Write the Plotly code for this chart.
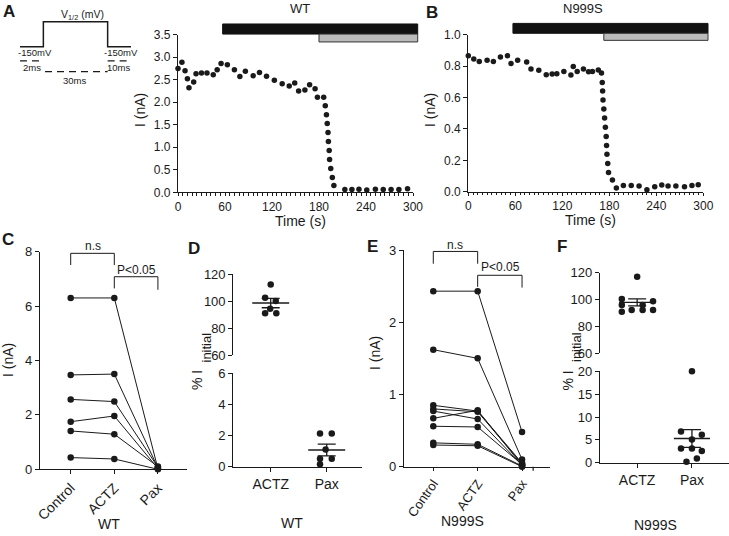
import plotly.graph_objects as go

W, H = 729, 536
FONT = "Liberation Sans, Arial, Helvetica, sans-serif"
INK = "#1a1a1a"

# ---------------- data ----------------
# voltage protocol schematic (arbitrary units: holding, step, holding)
proto_x = [0, 1, 1, 3.75, 3.75, 4.75]
proto_v = [0, 0, 1, 1, 0, 0]

# Panel A: WT time course
wt_time = [0, 5, 9, 12, 14, 20, 23, 30, 37, 45, 50, 55, 63, 72, 79, 86, 96, 104, 113, 123,
           133, 142, 149, 154, 162, 168, 175, 178, 186, 188, 189.5, 190.5, 191.5, 192, 193,
           193.5, 195, 197, 199, 213, 222, 231, 241, 252, 262, 272, 282, 293]
wt_current = [2.75, 2.89, 2.70, 2.52, 2.32, 2.45, 2.63, 2.65, 2.65, 2.61, 2.72, 2.86, 2.83, 2.72,
              2.57, 2.69, 2.59, 2.66, 2.58, 2.49, 2.41, 2.36, 2.43, 2.25, 2.27, 2.39, 2.30, 2.11,
              2.11, 1.92, 1.72, 1.53, 1.33, 1.13, 0.93, 0.73, 0.53, 0.33, 0.15, 0.06, 0.06, 0.07,
              0.05, 0.07, 0.06, 0.06, 0.06, 0.08]

# Panel B: N999S time course
n_time = [0, 7, 14, 24, 32, 41, 50, 54.5, 63, 74.5, 80, 90, 99.5, 107, 113, 122, 131, 134, 139,
          147, 153.5, 158.5, 166, 170, 171, 171.5, 172, 173, 174, 175, 176, 176.5, 177, 178, 179,
          184, 189, 198, 208, 218, 228, 238, 247, 255, 265, 276, 285.5, 293.5]
n_current = [0.866, 0.845, 0.83, 0.837, 0.83, 0.858, 0.866, 0.817, 0.837, 0.826, 0.781, 0.773,
             0.745, 0.75, 0.752, 0.766, 0.743, 0.798, 0.766, 0.781, 0.764, 0.766, 0.775, 0.756,
             0.696, 0.641, 0.584, 0.527, 0.469, 0.41, 0.352, 0.295, 0.238, 0.18, 0.123, 0.074,
             0.023, 0.040, 0.040, 0.036, 0.013, 0.032, 0.042, 0.036, 0.036, 0.032, 0.04, 0.045]

# drug application bars (s)
actz_start = 57
wt_pax_start = 180
n_pax_start = 173
bar_end = 306

# Panel C: WT paired currents (nA)
conditions = ["Control", "ACTZ", "Pax"]
wt_control = [6.30, 3.47, 2.57, 1.75, 1.41, 0.43]
wt_actz = [6.30, 3.50, 2.49, 1.96, 1.29, 0.38]
wt_pax = [0.02, 0.05, 0.08, 0.03, 0.10, 0.00]

# Panel E: N999S paired currents (nA)
n_control = [2.43, 1.62, 0.85, 0.80, 0.77, 0.67, 0.56, 0.33, 0.30]
n_actz = [2.43, 1.50, 0.77, 0.76, 0.66, 0.78, 0.55, 0.31, 0.29]
n_pax = [0.48, 0.10, 0.05, 0.04, 0.02, 0.02, 0.03, 0.01, 0.00]

# Panel D: WT % of initial current
groups = ["ACTZ", "Pax"]
d_actz = [112.3, 102.5, 100.0, 94.3, 90.9, 90.9]
d_actz_jit = [0.0, -0.10, 0.09, -0.01, -0.10, 0.10]
d_pax = [2.14, 2.14, 1.11, 0.51, 0.51, 0.15]
d_pax_jit = [-0.12, 0.09, -0.02, -0.12, 0.09, -0.12]
d_mean = [98.5, 1.07]
d_sem = [3.5, 0.38]

# Panel F: N999S % of initial current
f_actz = [117.0, 100.4, 98.7, 96.0, 96.0, 92.2, 92.2, 92.2, 91.0]
f_actz_jit = [0.0, -0.28, 0.29, -0.28, 0.10, -0.10, 0.10, 0.29, -0.28]
f_pax = [20.0, 6.8, 6.1, 5.1, 3.1, 3.1, 2.55, 0.9, 0.2]
f_pax_jit = [0.0, -0.20, 0.18, 0.0, -0.20, 0.0, 0.18, 0.09, -0.10]
f_mean = [97.9, 5.3]
f_sem = [2.6, 1.95]


# ---------------- helpers ----------------
def dom_x(left, right):
    return [left / W, right / W]


def dom_y(top, bottom):
    return [1 - bottom / H, 1 - top / H]


def ann(text, x, y, size=13, bold=False, angle=0, xanchor="center", yanchor="middle"):
    if bold:
        text = "<b>" + text + "</b>"
    return dict(text=text, x=x / W, y=1 - y / H, xref="paper", yref="paper", showarrow=False,
                font=dict(size=size, family=FONT, color=INK), textangle=angle,
                xanchor=xanchor, yanchor=yanchor)


def axis(**kw):
    base = dict(showline=True, linecolor=INK, linewidth=1.2, ticks="outside", ticklen=4,
                tickwidth=1.2, tickcolor=INK, showgrid=False, zeroline=False, automargin=False,
                tickfont=dict(size=12, family=FONT, color=INK), fixedrange=True)
    base.update(kw)
    return base


dot = dict(color=INK, size=5.5)
fig = go.Figure()

# protocol schematic
fig.add_trace(go.Scatter(x=proto_x, y=proto_v, mode="lines", line=dict(color=INK, width=1.5),
                         xaxis="x", yaxis="y", showlegend=False, hoverinfo="skip"))
for xs, yv in [([0, 1], -0.57), ([3.75, 4.75], -0.57), ([1.07, 3.75], -1.0)]:
    fig.add_trace(go.Scatter(x=xs, y=[yv, yv], mode="lines",
                             line=dict(color=INK, width=1.3, dash="7px,5px"),
                             xaxis="x", yaxis="y", showlegend=False, hoverinfo="skip"))

# A and B
fig.add_trace(go.Scatter(x=wt_time, y=wt_current, mode="markers", marker=dot, cliponaxis=False,
                         xaxis="x2", yaxis="y2", showlegend=False))
fig.add_trace(go.Scatter(x=n_time, y=n_current, mode="markers", marker=dot, cliponaxis=False,
                         xaxis="x3", yaxis="y3", showlegend=False))

# C and E paired lines
pair_dot = dict(color=INK, size=6.5)
for c, a, p in zip(wt_control, wt_actz, wt_pax):
    fig.add_trace(go.Scatter(x=[0, 1, 2], y=[c, a, p], mode="lines+markers", marker=pair_dot,
                             line=dict(color=INK, width=1), cliponaxis=False,
                             xaxis="x4", yaxis="y4", showlegend=False))
for c, a, p in zip(n_control, n_actz, n_pax):
    fig.add_trace(go.Scatter(x=[0, 1, 2], y=[c, a, p], mode="lines+markers", marker=pair_dot,
                             line=dict(color=INK, width=1), cliponaxis=False,
                             xaxis="x6", yaxis="y7", showlegend=False))

# significance brackets
def bracket(xa, ya, x0, x1, top, left_low, right_low):
    fig.add_trace(go.Scatter(x=[x0, x0, x1, x1], y=[left_low, top, top, right_low], mode="lines",
                             line=dict(color=INK, width=1), xaxis=xa, yaxis=ya,
                             showlegend=False, hoverinfo="skip"))


bracket("x4", "y4", 0, 1, 7.94, 7.51, 7.51)
bracket("x4", "y4", 1, 2, 7.08, 6.65, 6.6)
bracket("x6", "y7", 0, 1, 2.98, 2.81, 2.81)
bracket("x6", "y7", 1, 2, 2.65, 2.49, 2.48)


# D and F scatter with mean +/- SEM
def dotplot(xa, ya_up, ya_lo, actz, actz_j, pax, pax_j, mean, sem):
    fig.add_trace(go.Scatter(x=[0 + j for j in actz_j], y=actz, mode="markers", marker=pair_dot,
                             cliponaxis=False, xaxis=xa, yaxis=ya_up, showlegend=False))
    fig.add_trace(go.Scatter(x=[1 + j for j in pax_j], y=pax, mode="markers", marker=pair_dot,
                             cliponaxis=False, xaxis=xa, yaxis=ya_lo, showlegend=False))
    for i, ya in enumerate([ya_up, ya_lo]):
        fig.add_trace(go.Scatter(x=[i - 0.33, i + 0.33], y=[mean[i], mean[i]], mode="lines",
                                 line=dict(color=INK, width=1.4), xaxis=xa, yaxis=ya,
                                 showlegend=False, hoverinfo="skip"))
        fig.add_trace(go.Scatter(x=[i], y=[mean[i]], mode="markers",
                                 marker=dict(size=0.1, color=INK),
                                 error_y=dict(type="data", array=[sem[i]], color=INK,
                                              thickness=1.3, width=9),
                                 xaxis=xa, yaxis=ya, showlegend=False))


dotplot("x5", "y5", "y6", d_actz, d_actz_jit, d_pax, d_pax_jit, d_mean, d_sem)
dotplot("x7", "y8", "y9", f_actz, f_actz_jit, f_pax, f_pax_jit, f_mean, f_sem)

# ---------------- layout ----------------
cat_font = dict(size=14, family=FONT, color=INK)
num_font = dict(size=13, family=FONT, color=INK)
e_range = [-0.66, 2.63]
layout = dict(
    width=W, height=H, margin=dict(l=0, r=0, t=0, b=0, autoexpand=False),
    paper_bgcolor="white", plot_bgcolor="white", showlegend=False,
    # protocol
    xaxis=dict(domain=dom_x(17, 134), range=[-0.128, 4.878], visible=False, fixedrange=True),
    yaxis=dict(domain=dom_y(19.2, 74.2), range=[-1.1, 1.1], visible=False, fixedrange=True),
    # A
    xaxis2=axis(domain=dom_x(178, 413), range=[0, 300], tickvals=[0, 60, 120, 180, 240, 300],
                ticklen=3, anchor="y2",
                minor=dict(ticks="outside", dtick=6, ticklen=2.5, tickwidth=1, tickcolor=INK)),
    yaxis2=axis(domain=dom_y(34.7, 192.3), range=[0, 3.5], dtick=0.5, tickformat=".1f",
                anchor="x2"),
    # B
    xaxis3=axis(domain=dom_x(468.3, 703.3), range=[0, 300], tickvals=[0, 60, 120, 180, 240, 300],
                ticklen=3, anchor="y3",
                minor=dict(ticks="outside", dtick=6, ticklen=2.5, tickwidth=1, tickcolor=INK)),
    yaxis3=axis(domain=dom_y(34.7, 191.7), range=[0, 1.0], dtick=0.2, tickformat=".1f",
                anchor="x3"),
    # C
    xaxis4=axis(domain=dom_x(40, 187), range=[-0.704, 2.667], tickvals=[0, 1, 2],
                ticktext=conditions, tickangle=-45, tickfont=cat_font, anchor="y4"),
    yaxis4=axis(domain=dom_y(251.7, 469.3), range=[0, 8], dtick=2, anchor="x4",
                tickfont=num_font),
    # D
    xaxis5=axis(domain=dom_x(233.3, 362), range=[-0.668, 1.63], tickvals=[0, 1],
                ticktext=groups, tickfont=cat_font, anchor="y6"),
    yaxis5=axis(domain=dom_y(274, 355), range=[60, 120], dtick=20, anchor="x5",
                tickfont=num_font),
    yaxis6=axis(domain=dom_y(373.3, 466.7), range=[0, 6], dtick=2, anchor="x5",
                tickfont=num_font),
    # E
    xaxis6=axis(domain=dom_x(404, 550), range=e_range, tickvals=[0, 1, 2],
                ticktext=conditions, tickangle=-55, ticklen=3,
                tickfont=dict(size=13, family=FONT, color=INK), anchor="y7"),
    yaxis7=axis(domain=dom_y(250, 466.7), range=[0, 3], dtick=1, anchor="x6",
                tickfont=num_font),
    # F
    xaxis7=axis(domain=dom_x(600, 728.5), range=[-0.678, 1.667], tickvals=[0, 1],
                ticktext=groups, tickfont=cat_font, anchor="y9"),
    yaxis8=axis(domain=dom_y(272.7, 353.3), range=[60, 120], dtick=20, anchor="x7",
                tickfont=num_font),
    yaxis9=axis(domain=dom_y(371.3, 462.7), range=[0, 20], dtick=5, anchor="x7",
                tickfont=num_font),
)
fig.update_layout(**layout)

# extra end tick on the E category axis
e_tick = (2.25 - e_range[0]) / (e_range[1] - e_range[0])
fig.add_shape(type="line", xref="x6 domain", yref="y7 domain", x0=e_tick, x1=e_tick,
              y0=0, y1=-4 / 216.7, line=dict(color=INK, width=1.2))


# drug application bars (black = ACTZ, grey = Pax)
def bars(xdom, ydom, pax_start, black_y, grey_y):
    fig.add_shape(type="rect", xref=xdom, yref=ydom, x0=actz_start / 300, x1=bar_end / 300,
                  y0=black_y[0], y1=black_y[1], fillcolor="#111111",
                  line=dict(color="#111111", width=1))
    fig.add_shape(type="rect", xref=xdom, yref=ydom, x0=pax_start / 300, x1=bar_end / 300,
                  y0=grey_y[0], y1=grey_y[1], fillcolor="#bbbbbb",
                  line=dict(color="#333333", width=1))


bars("x2 domain", "y2 domain", wt_pax_start, (1.004, 1.068), (0.954, 1.004))
bars("x3 domain", "y3 domain", n_pax_start, (1.009, 1.072), (0.964, 1.009))

annotations = [
    # protocol text
    ann("V<sub>1/2</sub> (mV)", 82, 15, size=10.5),
    ann("-150mV", 35, 52.5, size=9.5),
    ann("-150mV", 121, 52.5, size=9.5),
    ann("2ms", 32, 67, size=9.5),
    ann("10ms", 118, 67, size=9.5),
    ann("30ms", 74, 80, size=9.5),
    # panel letters
    ann("A", 9, 11, size=17, bold=True),
    ann("B", 432, 13, size=17, bold=True),
    ann("C", 8, 240, size=17, bold=True),
    ann("D", 194, 248, size=17, bold=True),
    ann("E", 372, 247, size=17, bold=True),
    ann("F", 562, 247, size=17, bold=True),
    # titles
    ann("WT", 300, 9, size=13),
    ann("N999S", 583, 9, size=13),
    # axis titles
    ann("I (nA)", 140, 110, size=14, angle=-90),
    ann("I (nA)", 430, 110, size=14, angle=-90),
    ann("Time (s)", 300, 221, size=14),
    ann("Time (s)", 590, 220, size=14),
    ann("I (nA)", 8, 360, size=14, angle=-90),
    ann("I (nA)", 375, 353, size=14, angle=-90),
    ann("% I", 197, 380, size=14, angle=-90),
    ann("initial", 205.5, 348, size=13, angle=-90),
    ann("% I", 567.5, 381, size=14, angle=-90),
    ann("initial", 576, 347, size=13, angle=-90),
    # group labels
    ann("WT", 109, 524, size=14),
    ann("WT", 292, 523, size=14),
    ann("N999S", 463, 521, size=14),
    ann("N999S", 655, 525, size=14),
    # significance
    ann("n.s", 92.5, 246.5, size=12),
    ann("P<0.05", 136, 270, size=12),
    ann("n.s", 455.5, 245, size=12),
    ann("P<0.05", 500, 267, size=12),
]
fig.update_layout(annotations=annotations)

fig.write_html("out.html", config={"displayModeBar": False},
               post_script="document.body.style.margin='0px';")
